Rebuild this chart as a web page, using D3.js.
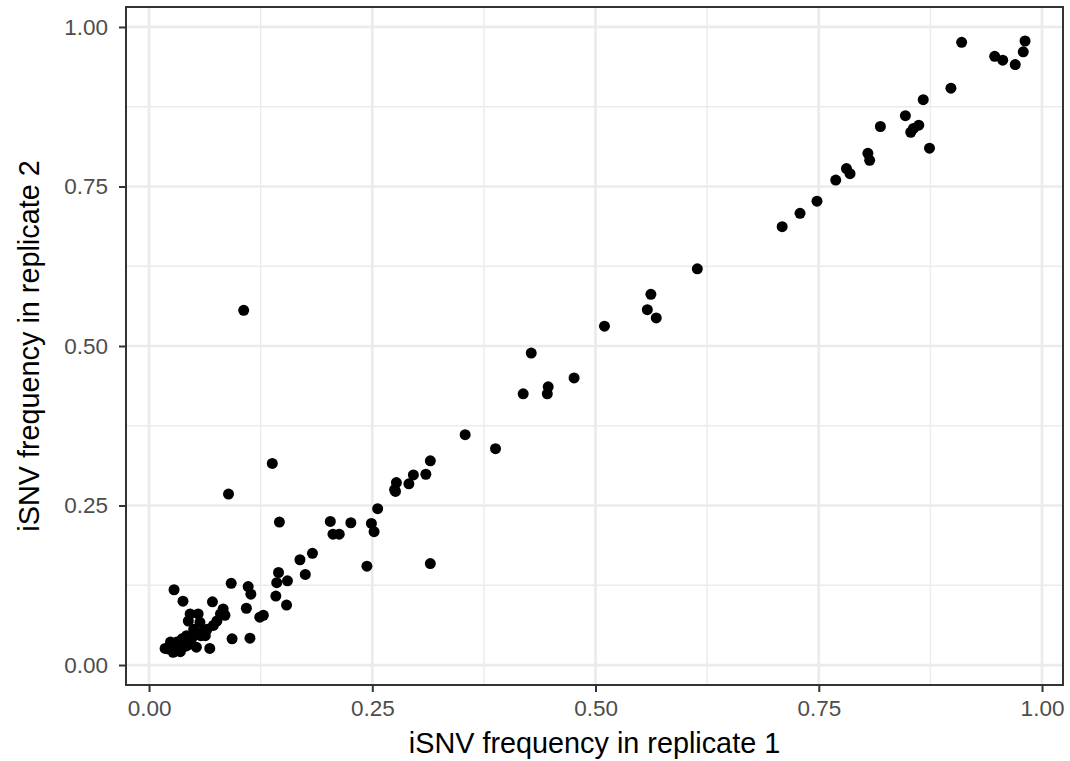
<!DOCTYPE html>
<html>
<head>
<meta charset="utf-8">
<script src="https://cdn.jsdelivr.net/npm/d3@7"></script>
<style>
  body { margin: 0; background: #fff; }
  svg text { font-family: "Liberation Sans", Arial, sans-serif; }
</style>
</head>
<body>
<div id="chart"></div>
<script>
// iSNV frequencies
const rep1 = [
  0.910, 0.981, 0.979, 0.947, 0.956, 0.970, 0.898, 0.867, 0.847, 0.862,
  0.856, 0.853, 0.819, 0.874, 0.805, 0.807, 0.781, 0.785, 0.769, 0.748,
  0.729, 0.709, 0.614, 0.562, 0.558, 0.568, 0.510, 0.428, 0.476, 0.447,
  0.446, 0.419, 0.354, 0.388, 0.106, 0.138, 0.089, 0.315, 0.310, 0.296,
  0.291, 0.277, 0.275, 0.276, 0.256, 0.249, 0.252, 0.226, 0.203, 0.206,
  0.213, 0.146, 0.244, 0.315, 0.183, 0.169, 0.175, 0.145, 0.143, 0.155,
  0.092, 0.111, 0.028, 0.114, 0.142, 0.154, 0.109, 0.124, 0.128, 0.093,
  0.113, 0.038, 0.071, 0.083, 0.080, 0.046, 0.055, 0.044, 0.057, 0.076,
  0.072, 0.065, 0.050, 0.053, 0.063, 0.042, 0.037, 0.068, 0.053, 0.046,
  0.031, 0.024, 0.022, 0.027, 0.035, 0.038, 0.042, 0.018, 0.060, 0.085,
  0.030, 0.040, 0.048, 0.033, 0.058, 0.026
];
const rep2 = [
  0.976, 0.978, 0.961, 0.954, 0.948, 0.941, 0.904, 0.886, 0.861, 0.846,
  0.841, 0.835, 0.844, 0.810, 0.802, 0.791, 0.778, 0.770, 0.760, 0.727,
  0.708, 0.687, 0.621, 0.581, 0.557, 0.544, 0.531, 0.489, 0.450, 0.436,
  0.425, 0.425, 0.361, 0.339, 0.556, 0.316, 0.268, 0.320, 0.299, 0.298,
  0.284, 0.286, 0.275, 0.272, 0.245, 0.222, 0.209, 0.223, 0.225, 0.205,
  0.205, 0.224, 0.155, 0.159, 0.175, 0.165, 0.142, 0.145, 0.129, 0.132,
  0.128, 0.123, 0.118, 0.111, 0.108, 0.094, 0.089, 0.075, 0.078, 0.041,
  0.042, 0.100, 0.099, 0.088, 0.080, 0.080, 0.080, 0.069, 0.067, 0.069,
  0.062, 0.056, 0.056, 0.051, 0.046, 0.046, 0.041, 0.026, 0.028, 0.033,
  0.036, 0.036, 0.025, 0.020, 0.021, 0.028, 0.030, 0.026, 0.052, 0.078,
  0.024, 0.038, 0.042, 0.030, 0.046, 0.032
];
const majorTicks = [0, 0.25, 0.5, 0.75, 1];
const minorTicks = [0.125, 0.375, 0.625, 0.875];
const xTitle = 'iSNV frequency in replicate 1';
const yTitle = 'iSNV frequency in replicate 2';

const data = rep1.map((v, i) => ({ x: v, y: rep2[i] }));

const W = 1070, H = 761;
const margin = { top: 7, right: 7, bottom: 76, left: 126 };
const width = W - margin.left - margin.right;
const height = H - margin.top - margin.bottom;

const svg = d3.select('#chart')
  .append('svg')
  .attr('width', W)
  .attr('height', H);

const g = svg.append('g')
  .attr('transform', `translate(${margin.left},${margin.top})`);

// ggplot-like 5% expansion
const x = d3.scaleLinear().domain([-0.0258, 1.0235]).range([0, width]);
const y = d3.scaleLinear().domain([-0.0313, 1.0313]).range([height, 0]);

// grid
g.selectAll('.minor-x').data(minorTicks).enter().append('line')
  .attr('x1', d => x(d)).attr('x2', d => x(d))
  .attr('y1', 0).attr('y2', height)
  .attr('stroke', '#ebebeb').attr('stroke-width', 1.4);
g.selectAll('.minor-y').data(minorTicks).enter().append('line')
  .attr('y1', d => y(d)).attr('y2', d => y(d))
  .attr('x1', 0).attr('x2', width)
  .attr('stroke', '#ebebeb').attr('stroke-width', 1.4);
g.selectAll('.major-x').data(majorTicks).enter().append('line')
  .attr('x1', d => x(d)).attr('x2', d => x(d))
  .attr('y1', 0).attr('y2', height)
  .attr('stroke', '#ebebeb').attr('stroke-width', 2.7);
g.selectAll('.major-y').data(majorTicks).enter().append('line')
  .attr('y1', d => y(d)).attr('y2', d => y(d))
  .attr('x1', 0).attr('x2', width)
  .attr('stroke', '#ebebeb').attr('stroke-width', 2.7);

// points
g.selectAll('.dot')
  .data(data)
  .enter()
  .append('circle')
  .attr('class', 'dot')
  .attr('cx', d => x(d.x))
  .attr('cy', d => y(d.y))
  .attr('r', 5.5)
  .attr('fill', '#000');

// panel border
g.append('rect')
  .attr('x', 0).attr('y', 0)
  .attr('width', width).attr('height', height)
  .attr('fill', 'none')
  .attr('stroke', '#333333')
  .attr('stroke-width', 2);

// axes
const fmt = d3.format('.2f');
const xAxis = g.append('g')
  .attr('transform', `translate(0,${height})`)
  .call(d3.axisBottom(x).tickValues(majorTicks).tickFormat(fmt)
    .tickSize(7).tickSizeOuter(0).tickPadding(8));
const yAxis = g.append('g')
  .call(d3.axisLeft(y).tickValues(majorTicks).tickFormat(fmt)
    .tickSize(7).tickSizeOuter(0).tickPadding(11));

[xAxis, yAxis].forEach(ax => {
  ax.select('.domain').remove();
  ax.selectAll('.tick line').attr('stroke', '#333333').attr('stroke-width', 2);
  ax.selectAll('.tick text')
    .attr('fill', '#4d4d4d')
    .style('font-size', '22.5px')
    .style('font-family', '"Liberation Sans", Arial, sans-serif');
});

// titles
svg.append('text')
  .attr('x', margin.left + width / 2)
  .attr('y', 753)
  .attr('text-anchor', 'middle')
  .style('font-size', '28.8px')
  .attr('fill', '#000')
  .text(xTitle);

svg.append('text')
  .attr('transform', `translate(39,${margin.top + height / 2}) rotate(-90)`)
  .attr('text-anchor', 'middle')
  .style('font-size', '28.8px')
  .attr('fill', '#000')
  .text(yTitle);
</script>
</body>
</html>
